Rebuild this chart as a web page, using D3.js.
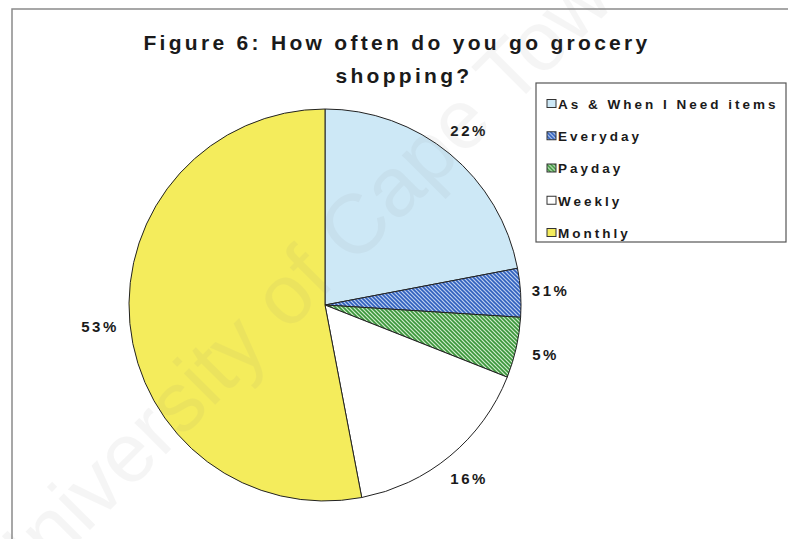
<!DOCTYPE html>
<html>
<head>
<meta charset="utf-8">
<script src="https://cdn.jsdelivr.net/npm/d3@7/dist/d3.min.js"></script>
<style>
  html, body { margin: 0; padding: 0; background: #fff; }
  svg { display: block; font-family: Arial, "Liberation Sans", sans-serif; }
</style>
</head>
<body>
<svg id="chart" width="788" height="539"></svg>
<script>
// Shopping frequency responses (share of respondents, %)
const categories = ["As & When I Need items", "Everyday", "Payday", "Weekly", "Monthly"];
const shares = [22, 4, 5, 16, 53];
const sliceLabels = ["22%", "31%", "5%", "16%", "53%"];
const titleLines = ["Figure 6: How often do you go grocery", "shopping?"];

const W = 788, H = 539;
const svg = d3.select("#chart");
const defs = svg.append("defs");

// diagonal hatch fills
function hatch(id, bg, line) {
  const p = defs.append("pattern")
    .attr("id", id).attr("patternUnits", "userSpaceOnUse")
    .attr("width", 4).attr("height", 4);
  p.append("rect").attr("width", 4).attr("height", 4).attr("fill", bg);
  p.append("path").attr("d", "M-1,-1 L5,5 M-1,3 L1,5 M3,-1 L5,1")
    .attr("stroke", line).attr("stroke-width", 1.6);
}
hatch("hatchBlue", "#bccff0", "#3060be");
hatch("hatchGreen", "#cfeacb", "#3a963a");

const fills = ["#cde8f6", "url(#hatchBlue)", "url(#hatchGreen)", "#ffffff", "#f4ec5c"];

// outer frame
svg.append("path").attr("d", `M12,${H} L12,9 L${W},9`)
  .attr("fill", "none").attr("stroke", "#8a8a8a").attr("stroke-width", 1.5);

// title
const titleStyle = sel => sel.attr("text-anchor", "middle").attr("font-size", 21)
  .attr("font-weight", "bold").attr("letter-spacing", 3.3).attr("fill", "#1a1a1a");
svg.append("text").attr("x", 397).attr("y", 50).call(titleStyle).text(titleLines[0]);
svg.append("text").attr("x", 404).attr("y", 83).call(titleStyle).text(titleLines[1]);

// pie
const cx = 325, cy = 305, R = 196;
const pie = d3.pie().sort(null).value(d => d);
const arcs = pie(shares);
const arc = d3.arc().innerRadius(0).outerRadius(R);
const labelArc = d3.arc().innerRadius(226).outerRadius(226);

const g = svg.append("g").attr("transform", `translate(${cx},${cy})`);
g.selectAll("path.slice").data(arcs).join("path")
  .attr("class", "slice")
  .attr("d", arc)
  .attr("fill", (d, i) => fills[i])
  .attr("stroke", "#222").attr("stroke-width", 1);

g.selectAll("text.pct").data(arcs).join("text")
  .attr("class", "pct")
  .attr("transform", d => `translate(${labelArc.centroid(d)})`)
  .attr("text-anchor", "middle").attr("dy", "0.35em")
  .attr("font-size", 15).attr("font-weight", "bold").attr("letter-spacing", 2.5)
  .attr("fill", "#1a1a1a")
  .text((d, i) => sliceLabels[i]);

// legend
const lg = svg.append("g");
lg.append("rect").attr("x", 536).attr("y", 83).attr("width", 250).attr("height", 159)
  .attr("fill", "#fff").attr("stroke", "#555").attr("stroke-width", 1.2);
const rowY = d3.scalePoint().domain(categories).range([104, 233]);
const items = lg.selectAll("g.item").data(categories).join("g")
  .attr("class", "item")
  .attr("transform", d => `translate(547,${rowY(d)})`);
items.append("rect").attr("x", 0).attr("y", -4.5).attr("width", 9).attr("height", 8)
  .attr("fill", (d, i) => fills[i]).attr("stroke", "#333").attr("stroke-width", 1);
items.append("text").attr("x", 11).attr("dy", "0.36em")
  .attr("font-size", 13.5).attr("font-weight", "bold").attr("letter-spacing", 3)
  .attr("fill", "#1a1a1a").text(d => d);

// faint diagonal watermark over everything
svg.append("text")
  .attr("transform", "translate(10,610) rotate(-45)")
  .attr("font-size", 84).attr("fill", "#808080").attr("opacity", 0.07)
  .attr("pointer-events", "none")
  .text("University of Cape Town");
</script>
</body>
</html>
